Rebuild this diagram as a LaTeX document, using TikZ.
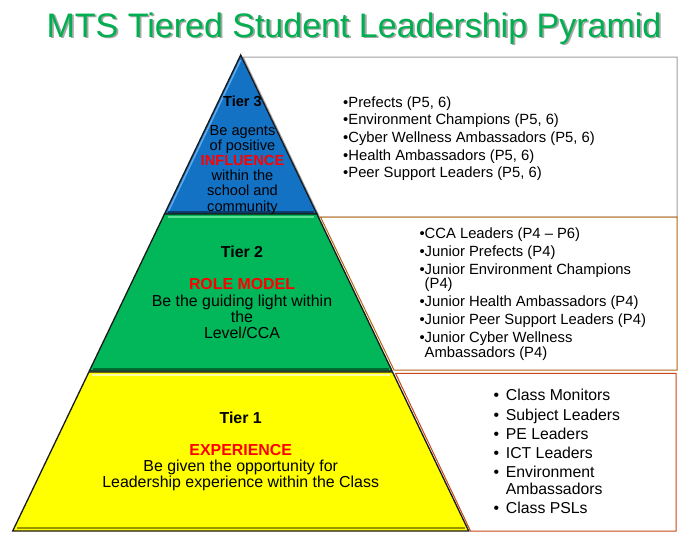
\documentclass[tikz,border=0pt]{standalone}
\usepackage{fontspec}
\setmainfont{Liberation Sans}
\definecolor{titlegreen}{RGB}{0,176,80}
\definecolor{tblue}{RGB}{20,114,196}
\definecolor{tbluel}{RGB}{95,170,235}
\definecolor{tblued}{RGB}{10,60,110}
\definecolor{tgreen}{RGB}{2,183,89}
\definecolor{tgreenl}{RGB}{90,225,145}
\definecolor{tgreend}{RGB}{0,105,50}
\definecolor{tyellow}{RGB}{255,255,0}
\definecolor{tyellowl}{RGB}{255,255,170}
\definecolor{tyellowd}{RGB}{150,150,0}
\definecolor{bgray}{RGB}{160,160,160}
\definecolor{borange}{RGB}{180,100,20}
\definecolor{bred}{RGB}{200,70,20}
\definecolor{hired}{RGB}{255,0,0}
\tikzset{
  ttl/.style={font=\fontsize{34}{40}\selectfont, anchor=base, inner sep=0pt},
  lst/.style={font=\fontsize{14.8}{17.6}\selectfont, anchor=base west, inner sep=0pt},
  lstb/.style={font=\fontsize{15.8}{19}\selectfont, anchor=base west, inner sep=0pt},
  pyr/.style={font=\fontsize{15.9}{16.5}\selectfont, anchor=base, inner sep=0pt},
  pyrs/.style={font=\fontsize{14.6}{15.2}\selectfont, anchor=base, inner sep=0pt},
  emph/.style={text=hired, font=\fontsize{15.9}{16.5}\selectfont\bfseries},
  boxline/.style={line width=1pt, fill=white},
  tieredge/.style={draw={rgb,255:red,25;green,25;blue,25}, line width=1.3pt, line join=miter},
}
\begin{document}
\begin{tikzpicture}[x=1pt,y=-1pt]
\useasboundingbox[fill=white] (0,0) rectangle (697,541);

% title
\node[ttl, text=black!35] (titleshadow) at (355.8,38.8) {MTS Tiered Student Leadership Pyramid};
\node[ttl, text=titlegreen] (title) at (354,37) {MTS Tiered Student Leadership Pyramid};

% boxes
\draw[boxline, draw=bgray] (243,57) -- (677,57) -- (677,217) -- (319.5,217) -- cycle;
\draw[boxline, draw=borange] (320.5,217) -- (677,217) -- (677,370) -- (394,370) -- cycle;
\draw[boxline, draw=bred] (395.5,373.3) -- (676,373.3) -- (676,531) -- (470.5,531) -- cycle;

% tier 3 (blue)
\coordinate (apex) at (240.7,55);
\fill[tblue] (apex) -- (316.9,214) -- (164.5,214) -- cycle;
\draw[tbluel, line width=1.5pt] (240.7,60) -- (168.5,211);
\draw[tblued, line width=2pt] (168,212) -- (313.5,212);
\draw[tieredge] (apex) -- (316.9,214) -- (164.5,214) -- cycle;
\node[pyrs, font=\fontsize{14.6}{15.2}\selectfont\bfseries] (t3title) at (242.5,106) {Tier 3};
\node[pyrs] (t3a) at (242.5,135) {Be agents};
\node[pyrs] (t3b) at (242.5,150.2) {of positive};
\node[pyrs, text=hired, font=\fontsize{14.6}{15.2}\selectfont\bfseries] (t3c) at (242.5,165.4) {INFLUENCE};
\node[pyrs] (t3d) at (242.5,180.6) {within the};
\node[pyrs] (t3e) at (242.5,195.8) {school and};
\node[pyrs] (t3f) at (242.5,211) {community};

% tier 2 (green)
\fill[tgreen] (164.5,214) -- (316.9,214) -- (392.1,371) -- (89.3,371) -- cycle;
\draw[tgreenl, line width=2pt] (167.5,217) -- (314,217);
\draw[tgreend, line width=2pt] (92.5,368.5) -- (389,368.5);
\draw[tieredge] (164.5,214) -- (316.9,214) -- (392.1,371) -- (89.3,371) -- cycle;
\node[pyr, font=\fontsize{15.9}{16.5}\selectfont\bfseries] (t2title) at (242,257.4) {Tier 2};
\node[pyr, emph] (t2a) at (242,289.6) {ROLE MODEL};
\node[pyr] (t2b) at (242,306) {Be the guiding light within};
\node[pyr] (t2c) at (242,322.4) {the};
\node[pyr] (t2d) at (242,338.8) {Level/CCA};

% tier 1 (yellow)
\fill[tyellow] (88.9,372) -- (392.5,372) -- (468.7,531) -- (12.7,531) -- cycle;
\draw[tyellowl, line width=2pt] (92,375) -- (389.5,375);
\draw[tyellowd, line width=2.5pt] (16.5,528) -- (465,528);
\draw[tieredge] (88.9,372) -- (392.5,372) -- (468.7,531) -- (12.7,531) -- cycle;
\node[pyr, font=\fontsize{15.9}{16.5}\selectfont\bfseries] (t1title) at (240.7,423) {Tier 1};
\node[pyr, emph] (t1a) at (240.7,455.7) {EXPERIENCE};
\node[pyr] (t1b) at (240.7,471.4) {Be given the opportunity for};
\node[pyr] (t1c) at (240.7,487.1) {Leadership experience within the Class};

% tier 3 list
\node[lst] (l3a) at (343,107.3) {•Prefects (P5, 6)};
\node[lst] (l3b) at (343,124.95) {•Environment Champions (P5, 6)};
\node[lst] (l3c) at (343,142.6) {•Cyber Wellness Ambassadors (P5, 6)};
\node[lst] (l3d) at (343,160.25) {•Health Ambassadors (P5, 6)};
\node[lst] (l3e) at (343,177.9) {•Peer Support Leaders (P5, 6)};

% tier 2 list
\node[lst] (l2a) at (419.3,238.6) {•CCA Leaders (P4 – P6)};
\node[lst] (l2b) at (419.3,256.3) {•Junior Prefects (P4)};
\node[lst] (l2c) at (419.3,274.3) {•Junior Environment Champions};
\node[lst] (l2c2) at (424.5,288.6) {(P4)};
\node[lst] (l2d) at (419.3,306) {•Junior Health Ambassadors (P4)};
\node[lst] (l2e) at (419.3,324) {•Junior Peer Support Leaders (P4)};
\node[lst] (l2f) at (419.3,342.6) {•Junior Cyber Wellness};
\node[lst] (l2f2) at (424.5,357) {Ambassadors (P4)};

% tier 1 list
\foreach \yy [count=\i] in {400.7,420,439,458,477.4,513.4}
  \node[lstb] (b1-\i) at (493.5,\yy) {•};
\node[lstb] (l1a) at (505.7,400.7) {Class Monitors};
\node[lstb] (l1b) at (505.7,420) {Subject Leaders};
\node[lstb] (l1c) at (505.7,439) {PE Leaders};
\node[lstb] (l1d) at (505.7,458) {ICT Leaders};
\node[lstb] (l1e) at (505.7,477.4) {Environment};
\node[lstb] (l1e2) at (505.7,494) {Ambassadors};
\node[lstb] (l1f) at (505.7,513.4) {Class PSLs};
\end{tikzpicture}
\end{document}
